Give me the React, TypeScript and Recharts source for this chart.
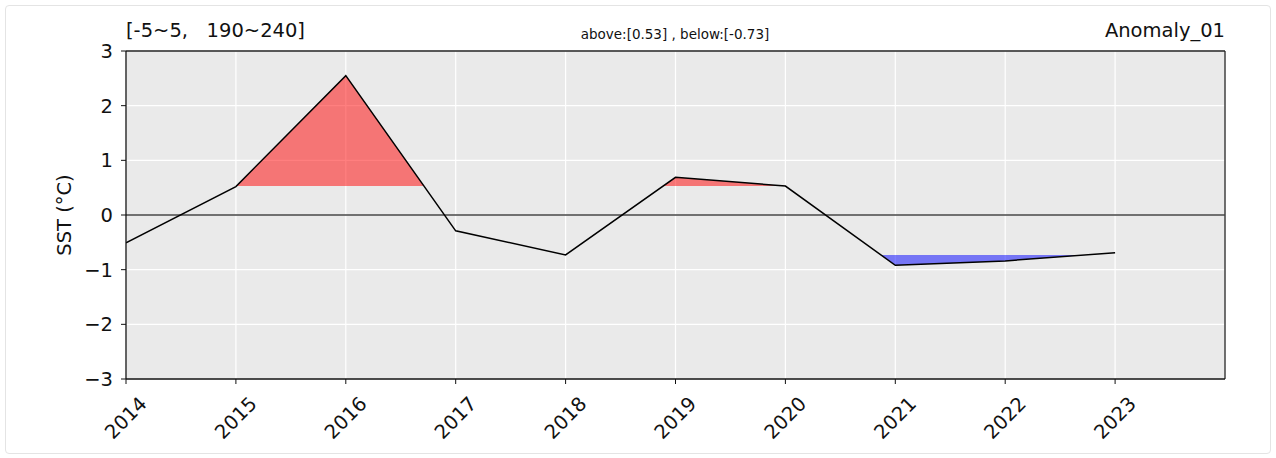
import React from "react";
import {
  ComposedChart,
  Line,
  Area,
  XAxis,
  YAxis,
  CartesianGrid,
  ReferenceLine,
} from "recharts";

const years = [2014, 2015, 2016, 2017, 2018, 2019, 2020, 2021, 2022, 2023];
const sst = [-0.51, 0.52, 2.55, -0.29, -0.73, 0.69, 0.53, -0.92, -0.84, -0.69];
const ABOVE = 0.53;
const BELOW = -0.73;
const xTicks = [2014, 2015, 2016, 2017, 2018, 2019, 2020, 2021, 2022, 2023];
const yTicks = [-3, -2, -1, 0, 1, 2, 3];

const FONT = "'DejaVu Sans', sans-serif";

const lineData = years.map((y, i) => ({ year: y, sst: sst[i] }));

// fill between the line and a threshold, with crossing points added
function band(th: number, isAbove: boolean) {
  const beyond = (v: number) => (isAbove ? v > th : v < th);
  const out: { year: number; band: number[] }[] = [];
  for (let i = 0; i < sst.length; i++) {
    const v = sst[i];
    out.push({ year: years[i], band: [th, beyond(v) ? v : th] });
    if (i < sst.length - 1 && beyond(v) !== beyond(sst[i + 1])) {
      const t = (th - v) / (sst[i + 1] - v);
      out.push({ year: years[i] + t * (years[i + 1] - years[i]), band: [th, th] });
    }
  }
  return out;
}

const aboveData = band(ABOVE, true);
const belowData = band(BELOW, false);

const fmtY = (v: number) => String(v).replace("-", "\u2212");

function XTick(props: any) {
  const { x, y, payload } = props;
  const cy = y + 32;
  return (
    <text
      x={x}
      y={cy}
      textAnchor="middle"
      dominantBaseline="central"
      transform={`rotate(-45, ${x}, ${cy})`}
      fontSize={19.5}
      fontFamily={FONT}
      fill="#111"
    >
      {payload.value}
    </text>
  );
}

export default function App() {
  return (
    <div style={{ position: "absolute", left: 0, top: 0, width: 1276, height: 458, background: "#fff", fontFamily: FONT }}>
      <div
        style={{
          position: "absolute",
          left: 5,
          top: 5,
          width: 1264,
          height: 447,
          border: "1px solid #e4e4e4",
          borderRadius: 4,
        }}
      />
      <ComposedChart
        width={1276}
        height={458}
        margin={{ top: 51, right: 51, left: 0, bottom: 0 }}
        style={{ position: "absolute", left: 0, top: 0 }}
      >
        <CartesianGrid fill="#EAEAEA" stroke="#ffffff" strokeWidth={1.2} />
        <XAxis
          dataKey="year"
          type="number"
          domain={[2014, 2024]}
          ticks={xTicks}
          allowDataOverflow
          height={79}
          tickSize={5}
          axisLine={{ stroke: "#111", strokeWidth: 1.3 }}
          tickLine={{ stroke: "#111" }}
          tick={<XTick />}
        />
        <YAxis
          type="number"
          domain={[-3, 3]}
          ticks={yTicks}
          width={126}
          tickSize={5}
          tickMargin={8}
          tickFormatter={fmtY}
          axisLine={{ stroke: "#111", strokeWidth: 1.3 }}
          tickLine={{ stroke: "#111" }}
          tick={{ fontSize: 19.5, fill: "#111", fontFamily: FONT }}
        />
        <ReferenceLine y={3} stroke="#222" strokeWidth={1.3} />
        <ReferenceLine x={2024} stroke="#222" strokeWidth={1.3} />
        <ReferenceLine y={0} stroke="#444" strokeWidth={1.3} />
        <Area
          data={aboveData}
          dataKey="band"
          type="linear"
          stroke="none"
          fill="red"
          fillOpacity={0.5}
          dot={false}
          activeDot={false}
          isAnimationActive={false}
        />
        <Area
          data={belowData}
          dataKey="band"
          type="linear"
          stroke="none"
          fill="blue"
          fillOpacity={0.5}
          dot={false}
          activeDot={false}
          isAnimationActive={false}
        />
        <Line
          data={lineData}
          dataKey="sst"
          type="linear"
          stroke="#000"
          strokeWidth={1.5}
          dot={false}
          activeDot={false}
          isAnimationActive={false}
        />
      </ComposedChart>
      <div style={{ position: "absolute", left: 126, top: 19, fontSize: 19.5, color: "#111", whiteSpace: "pre" }}>
        {"[-5~5,   190~240]"}
      </div>
      <div style={{ position: "absolute", left: 425, width: 500, top: 26, fontSize: 13.5, color: "#111", textAlign: "center" }}>
        above:[0.53] , below:[-0.73]
      </div>
      <div style={{ position: "absolute", right: 51, top: 19, fontSize: 19.5, color: "#111" }}>Anomaly_01</div>
      <div
        style={{
          position: "absolute",
          left: 64,
          top: 215,
          fontSize: 19.5,
          color: "#111",
          whiteSpace: "nowrap",
          transform: "translate(-50%, -50%) rotate(-90deg)",
        }}
      >
        SST (°C)
      </div>
    </div>
  );
}
